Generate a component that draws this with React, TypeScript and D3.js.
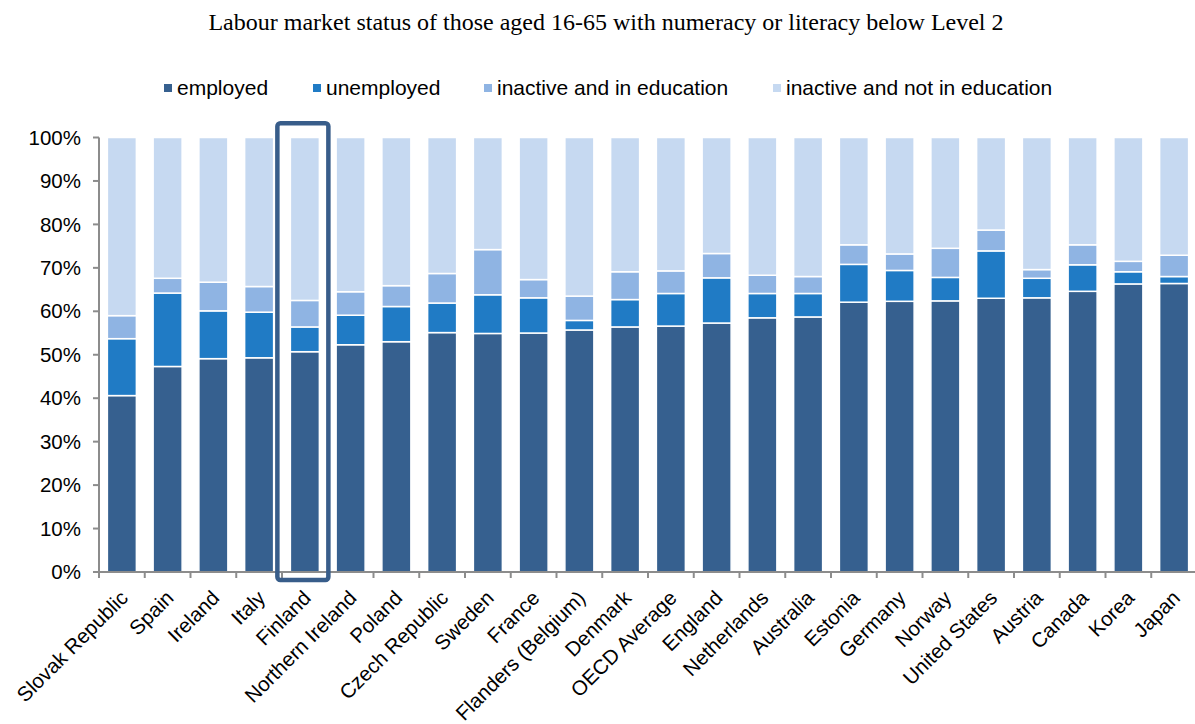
import * as d3 from 'd3';

const title = 'Labour market status of those aged 16-65 with numeracy or literacy below Level 2';

const countries = [
  'Slovak Republic', 'Spain', 'Ireland', 'Italy', 'Finland', 'Northern Ireland', 'Poland',
  'Czech Republic', 'Sweden', 'France', 'Flanders (Belgium)', 'Denmark', 'OECD Average',
  'England', 'Netherlands', 'Australia', 'Estonia', 'Germany', 'Norway', 'United States',
  'Austria', 'Canada', 'Korea', 'Japan',
];

// shares in %, per country
const employed = [40.6, 47.3, 49.1, 49.3, 50.7, 52.3, 53.0, 55.1, 54.9, 55.0, 55.7, 56.4, 56.6, 57.3, 58.5, 58.7, 62.1, 62.3, 62.4, 63.0, 63.1, 64.6, 66.3, 66.4];
const unemployed = [13.1, 16.9, 11.0, 10.5, 5.7, 6.8, 8.1, 6.8, 8.9, 8.1, 2.2, 6.3, 7.5, 10.4, 5.6, 5.4, 8.7, 7.1, 5.4, 10.9, 4.5, 6.1, 2.8, 1.6];
const inEducation = [5.3, 3.4, 6.6, 5.9, 6.1, 5.4, 4.8, 6.8, 10.4, 4.2, 5.6, 6.4, 5.2, 5.6, 4.2, 3.9, 4.5, 3.8, 6.7, 4.8, 2.0, 4.6, 2.4, 4.9];
const notInEducation = [41.0, 32.4, 33.3, 34.3, 37.5, 35.5, 34.1, 31.3, 25.8, 32.7, 36.5, 30.9, 30.7, 26.7, 31.7, 32.0, 24.7, 26.8, 25.5, 21.3, 30.4, 24.7, 28.5, 27.1];

const seriesNames = ['employed', 'unemployed', 'inactive and in education', 'inactive and not in education'];
const seriesColors = ['#36608F', '#207BC5', '#8FB4E3', '#C6D9F1'];
const yTicks = [0, 10, 20, 30, 40, 50, 60, 70, 80, 90, 100];
const highlighted = 'Finland';

const W = 1195;
const H = 724;
const axisColor = '#8C8C8C';
const sans = '"Liberation Sans", Arial, sans-serif';

export default function App() {
  const x = d3.scaleBand<string>().domain(countries).range([99, 1197]).paddingInner(0.366).paddingOuter(0.183);
  const y = d3.scaleLinear().domain([0, 100]).range([572, 137.5]);

  const rows = countries.map((c, i) => ({
    country: c,
    s0: employed[i],
    s1: unemployed[i],
    s2: inEducation[i],
    s3: notInEducation[i],
  }));
  const stacked = d3.stack<any>().keys(['s0', 's1', 's2', 's3'])(rows);

  const x0 = x.range()[0];
  const step = x.step();
  const boundaries = d3.range(countries.length + 1).map(i => x0 + i * step);

  const legendX = [164, 313, 484, 773];
  const hx = x(highlighted) as number;

  return (
    <svg width={W} height={H} style={{ position: 'absolute', left: 0, top: 0, background: '#fff' }}>
      <text x={606} y={30} textAnchor="middle" fontFamily='"Liberation Serif", "Times New Roman", serif' fontSize={24} fill="#000">
        {title}
      </text>

      {seriesNames.map((name, i) => (
        <g key={name} transform={`translate(${legendX[i]},88)`}>
          <rect x={0} y={-4} width={8} height={8} fill={seriesColors[i]} />
          <text x={13} y={7} fontFamily={sans} fontSize={21} fill="#000">
            {name}
          </text>
        </g>
      ))}

      {stacked.map((layer, si) => (
        <g key={si} fill={seriesColors[si]} stroke="#fff" strokeWidth={1.5}>
          {layer.map((d, i) => (
            <rect
              key={i}
              x={x(countries[i])}
              y={y(d[1])}
              width={x.bandwidth()}
              height={y(d[0]) - y(d[1])}
            />
          ))}
        </g>
      ))}

      {/* y axis */}
      <line x1={99} x2={99} y1={y(100)} y2={y(0)} stroke={axisColor} strokeWidth={2} />
      {yTicks.map(t => (
        <g key={t} transform={`translate(0,${y(t)})`}>
          <line x1={93} x2={99} stroke={axisColor} strokeWidth={2} />
          <text x={81} dy="0.35em" textAnchor="end" fontFamily={sans} fontSize={20.5} fill="#000">
            {t}%
          </text>
        </g>
      ))}

      {/* x axis */}
      <line x1={99} x2={1197} y1={y(0)} y2={y(0)} stroke={axisColor} strokeWidth={2} />
      {boundaries.map((b, i) => (
        <line key={i} x1={b} x2={b} y1={y(0)} y2={y(0) + 6} stroke={axisColor} strokeWidth={2} />
      ))}
      {countries.map(c => {
        const cx = (x(c) as number) + x.bandwidth() / 2;
        return (
          <text
            key={c}
            transform={`translate(${cx - 3},589) rotate(-45)`}
            dy="0.71em"
            textAnchor="end"
            fontFamily={sans}
            fontSize={20.5}
            fill="#000"
          >
            {c}
          </text>
        );
      })}

      {/* highlight box */}
      <rect
        x={hx - 13}
        y={123.3}
        width={x.bandwidth() + 22}
        height={580 - 123.3}
        fill="none"
        stroke="#385D8A"
        strokeWidth={4.5}
        rx={3}
      />
    </svg>
  );
}
